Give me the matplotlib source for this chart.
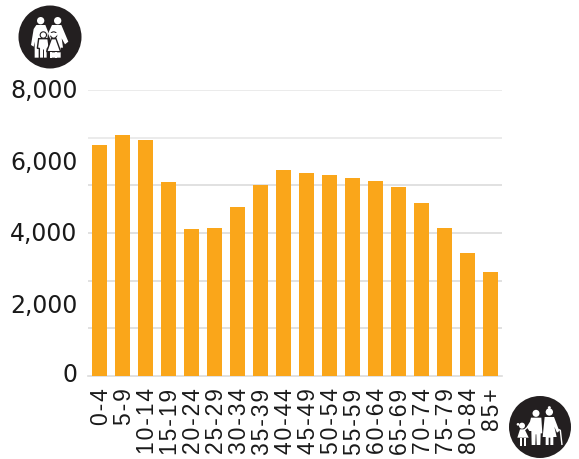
#!/usr/bin/env python
import numpy as np
import matplotlib as mpl
mpl.use('Agg')
import matplotlib.pyplot as plt
from matplotlib.patches import Circle, Polygon
from matplotlib.transforms import ScaledTranslation

# Population by age group
age_groups = ['0-4', '5-9', '10-14', '15-19', '20-24', '25-29', '30-34', '35-39', '40-44',
              '45-49', '50-54', '55-59', '60-64', '65-69', '70-74', '75-79', '80-84', '85+']
population = [6453, 6741, 6593, 5418, 4103, 4140, 4727, 5351, 5753,
              5678, 5613, 5530, 5454, 5278, 4839, 4140, 3449, 2901]
y_labels = [0, 2000, 4000, 6000, 8000]
grid_levels = [8000 * i / 6 for i in range(1, 7)]
grid_colors = ['#d9d9d9', '#d9d9d9', '#d9d9d9', '#d9d9d9', '#e6e6e6', '#e6e6e6']

W, H = 579, 459
bar_color = '#faa61a'
icon_color = '#231f20'
text_color = '#1a1a1a'

fig = plt.figure(figsize=(W / 100, H / 100), dpi=100)
ax = fig.add_axes([88 / W, 1 - 376 / H, 414 / W, 286 / H])


def nudge(label, dx, dy):
    # shift a tick label by a few pixels
    label.set_transform(label.get_transform() + ScaledTranslation(dx / 100, dy / 100, fig.dpi_scale_trans))


x = np.arange(len(age_groups))
ax.bar(x, population, width=0.66, color=bar_color, zorder=3)
ax.set_xlim(-0.5, len(age_groups) - 0.5)
ax.set_ylim(0, 8000)

ax.hlines(grid_levels, -0.5, len(age_groups) - 0.5, colors=grid_colors, lw=1.1, zorder=1)
ax.set_yticks(y_labels)
ax.set_yticklabels([f'{v:,}' for v in y_labels], fontsize=17, color=text_color,
                   family='DejaVu Sans')
ax.tick_params(axis='y', length=0, pad=7.5)
for i, lab in enumerate(ax.get_yticklabels()):
    # the zero sits a little above the baseline
    nudge(lab, 0, 3 if i == 0 else 1)

# hair spaces open the labels up a little
spaced = ['\u200a'.join(s) for s in age_groups]
ax.set_xticks(x)
ax.set_xticklabels(spaced, rotation=90, fontsize=16.5, color=text_color,
                   family=['Liberation Sans', 'DejaVu Sans'])
ax.tick_params(axis='x', length=0, pad=9)
for lab in ax.get_xticklabels():
    nudge(lab, 2, 0)

for s in ['top', 'left', 'right']:
    ax.spines[s].set_visible(False)
ax.spines['bottom'].set_color('#dcdcdc')
ax.spines['bottom'].set_linewidth(1.2)

# overlay in pixel units for the two icons
ov = fig.add_axes([0, 0, 1, 1], zorder=5)
ov.set_xlim(0, W)
ov.set_ylim(H, 0)
ov.axis('off')


def shape(origin, pts, halo=False):
    # outline given at 3x scale from the icon's corner
    pts = [(origin[0] + u / 3, origin[1] + v / 3) for u, v in pts]
    ov.add_patch(Polygon(pts, closed=True, fc='white',
                         ec=icon_color if halo else 'none', lw=1.0 if halo else 0))


def dot(origin, u, v, r, halo=False):
    ov.add_patch(Circle((origin[0] + u / 3, origin[1] + v / 3), r / 3, fc='white',
                        ec=icon_color if halo else 'none', lw=0.8 if halo else 0))


def line(origin, pts, lw, color='white'):
    ov.plot([origin[0] + u / 3 for u, v in pts], [origin[1] + v / 3 for u, v in pts],
            color=color, lw=lw, solid_capstyle='butt')


# parents with two children
fam = (18, 5)
ov.add_patch(Circle((50, 37), 31.5, fc=icon_color, ec='none'))
dot(fam, 68, 47, 11)
dot(fam, 119, 47, 11)
shape(fam, [(55, 60), (82, 60), (90, 80), (84, 158), (50, 158), (50, 110), (47, 125), (39, 120), (47, 72)])
shape(fam, [(102, 60), (130, 60), (151, 110), (141, 118), (131, 100), (135, 128), (128, 128), (128, 158),
            (96, 158), (96, 100), (90, 86)])
shape(fam, [(62, 101), (90, 101), (94, 130), (88, 130), (88, 160), (64, 160), (64, 130), (58, 130)], halo=True)
dot(fam, 76, 90, 9.5, halo=True)
line(fam, [(76, 132), (76, 160)], 0.7, icon_color)
shape(fam, [(100, 101), (114, 101), (128, 140), (86, 140)], halo=True)
shape(fam, [(96, 140), (103, 140), (103, 160), (96, 160)])
shape(fam, [(111, 140), (118, 140), (118, 160), (111, 160)])
dot(fam, 107, 90, 9.5, halo=True)
shape(fam, [(93, 84), (121, 84), (118, 92), (96, 92)])

# grandparents with a grandchild
old = (508, 395)
ov.add_patch(Circle((540, 427), 31, fc=icon_color, ec='none'))
dot(old, 84, 55, 10.5)
dot(old, 124, 51, 11)
dot(old, 124, 38, 4.5)
shape(old, [(69, 68), (100, 68), (103, 115), (98, 115), (97, 150), (86, 150), (85, 118), (83, 118),
            (82, 150), (71, 150), (70, 108), (64, 108), (56, 96), (66, 80)])
shape(old, [(110, 66), (138, 66), (154, 108), (147, 113), (139, 95), (146, 126), (136, 126), (136, 150),
            (127, 150), (127, 128), (122, 128), (122, 150), (113, 150), (113, 126), (104, 126)])
line(old, [(162, 150), (157, 106), (151, 103)], 1.0)
dot(old, 42, 92, 9)
dot(old, 30, 88, 4)
shape(old, [(36, 103), (50, 103), (62, 128), (28, 128)])
shape(old, [(37, 128), (43, 128), (43, 152), (37, 152)])
shape(old, [(49, 128), (55, 128), (55, 152), (49, 152)])
line(old, [(48, 106), (66, 90)], 1.0)

fig.savefig('out.png', dpi=100)
